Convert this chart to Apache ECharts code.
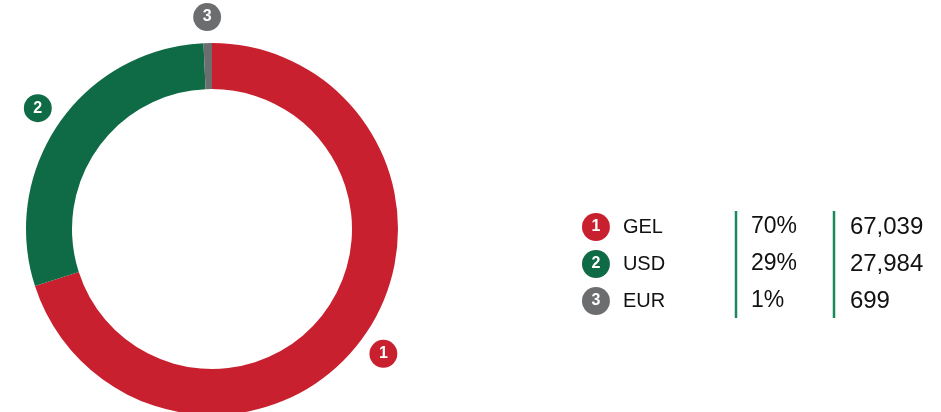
<!DOCTYPE html>
<html>
<head>
<meta charset="utf-8">
<script src="https://cdn.jsdelivr.net/npm/echarts@6/dist/echarts.min.js"></script>
<style>
    html, body {margin: 0; padding: 0; background: #fff;}
    #chart {width: 941px; height: 412px;}
</style>
</head>
<body>
<div id="chart"></div>
<script>
const currencies = ['GEL', 'USD', 'EUR'];
const amounts = [67039, 27984, 699];
const shares = ['70%', '29%', '1%'];
const badges = ['1', '2', '3'];
const colors = ['#C8202F', '#0F6A46', '#6B6D6F'];

const FONT = '"Liberation Sans", Arial, sans-serif';

let pieData = currencies.map(function (name, i) {
    return {name: name, value: amounts[i], itemStyle: {color: colors[i]}};
});

// one rich style per badge colour; left aligned so the tokens after it stay left aligned too,
// the round box comes from the padding around the single digit
let badgeRich = {};
colors.forEach(function (c, i) {
    badgeRich['b' + i] = {
        backgroundColor: c,
        color: '#fff',
        fontFamily: FONT,
        fontWeight: 'bold',
        fontSize: 16,
        height: 28,
        lineHeight: 28,
        padding: [0, 9.5, 0, 9.5],
        borderRadius: 14,
        align: 'left'
    };
});

let legendRich = Object.assign({}, badgeRich, {
    n: {fontFamily: FONT, fontSize: 20, color: '#111', width: 128, padding: [0, 0, 0, 13], align: 'left'},
    p: {fontFamily: FONT, fontSize: 23, color: '#111', width: 99, align: 'left'},
    v: {fontFamily: FONT, fontSize: 24, color: '#111', width: 80, align: 'left'}
});

let chart = echarts.init(document.getElementById('chart'));

chart.setOption({
    animation: false,
    legend: {
        orient: 'vertical',
        left: 572,
        top: 208,
        itemWidth: 0,
        itemHeight: 0,
        itemGap: 9,
        icon: 'none',
        selectedMode: false,
        align: 'left',
        data: currencies,
        formatter: function (name) {
            let i = currencies.indexOf(name);
            return '{b' + i + '|' + badges[i] + '}{n|' + name + '}{p|' + shares[i] + '}{v|' +
                amounts[i].toLocaleString('en-US') + '}';
        },
        textStyle: {rich: legendRich, lineHeight: 28}
    },
    graphic: [
        {type: 'line', shape: {x1: 736, y1: 211, x2: 736, y2: 318}, style: {stroke: '#1A8A5C', lineWidth: 2.5}},
        {type: 'line', shape: {x1: 834, y1: 211, x2: 834, y2: 318}, style: {stroke: '#1A8A5C', lineWidth: 2.5}}
    ],
    series: [
        {
            type: 'pie',
            center: [212, 229],
            radius: [140, 186],
            startAngle: 90,
            clockwise: true,
            silent: true,
            label: {show: false},
            labelLine: {show: false},
            data: pieData
        },
        {
            // transparent ring that only carries the numbered badges
            type: 'pie',
            center: [212, 229],
            radius: [194, 224],
            startAngle: 90,
            clockwise: true,
            silent: true,
            itemStyle: {color: 'rgba(0,0,0,0)'},
            labelLine: {show: false},
            label: {
                show: true,
                position: 'inside',
                formatter: function (p) {
                    return '{b' + p.dataIndex + '|' + badges[p.dataIndex] + '}';
                },
                rich: badgeRich
            },
            data: currencies.map(function (name, i) {
                return {name: name, value: amounts[i]};
            })
        }
    ]
});
</script>
</body>
</html>
